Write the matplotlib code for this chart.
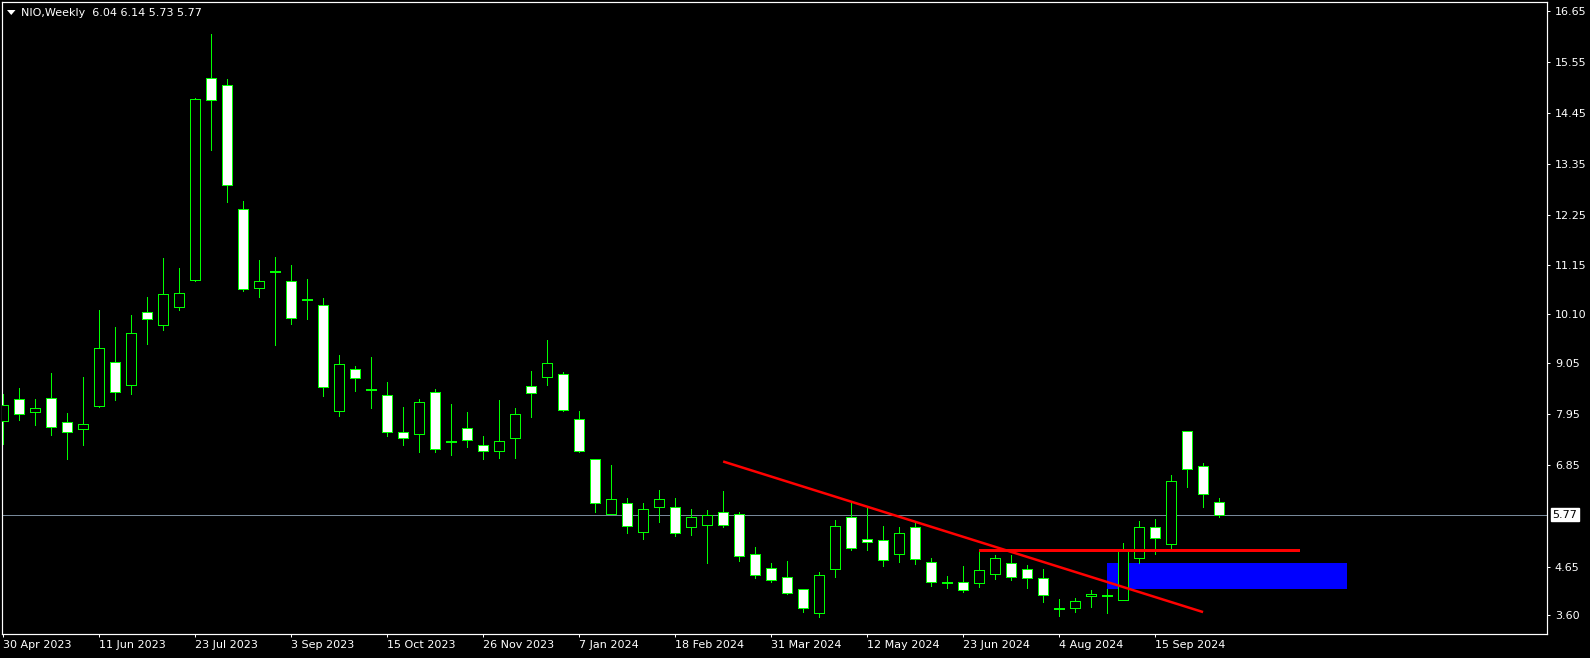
import matplotlib
matplotlib.use("Agg")
import matplotlib.pyplot as plt
from matplotlib.patches import Rectangle, Polygon
from matplotlib.transforms import blended_transform_factory

# ---------------- data ----------------
symbol = "NIO,Weekly"
last_ohlc = [6.04, 6.14, 5.73, 5.77]

opens = [7.80, 8.26, 7.99, 8.28, 7.77, 7.62, 8.11, 9.06, 8.56, 10.14,
         9.87, 10.26, 10.83, 15.19, 15.04, 12.36, 10.67, 11.00, 10.81, 10.40,
         10.29, 8.02, 8.91, 8.47, 8.35, 7.55, 7.51, 8.41, 7.35, 7.64,
         7.27, 7.14, 7.42, 8.54, 8.74, 8.80, 7.83, 6.97, 5.78, 6.02,
         5.39, 5.93, 5.93, 5.50, 5.54, 5.82, 5.78, 4.92, 4.62, 4.42,
         4.17, 3.64, 4.59, 5.72, 5.24, 5.22, 4.92, 5.50, 4.76, 4.30,
         4.31, 4.29, 4.49, 4.74, 4.59, 4.40, 3.74, 3.75, 4.01, 4.02,
         3.94, 4.83, 5.50, 5.15, 7.57, 6.82, 6.04]
highs = [8.38, 8.51, 8.27, 8.83, 7.97, 8.74, 10.19, 9.82, 10.08, 10.47,
         11.31, 11.10, 14.76, 16.15, 15.18, 12.54, 11.27, 11.33, 11.16, 10.86,
         10.45, 9.22, 8.98, 9.18, 8.64, 8.10, 8.27, 8.49, 8.16, 7.99,
         7.47, 8.25, 8.07, 8.87, 9.54, 8.85, 8.01, 6.97, 6.84, 6.13,
         6.02, 6.31, 6.13, 5.89, 5.87, 6.28, 5.83, 5.07, 4.73, 4.77,
         4.17, 4.53, 5.66, 6.03, 5.94, 5.53, 5.50, 5.60, 4.83, 4.45,
         4.66, 5.02, 4.90, 4.90, 4.69, 4.60, 3.95, 3.97, 4.15, 4.17,
         5.16, 5.64, 5.68, 6.63, 7.57, 6.88, 6.14]
lows = [7.30, 7.82, 7.71, 7.49, 6.97, 7.28, 8.09, 8.25, 8.38, 9.46,
        9.76, 10.19, 10.82, 13.65, 12.53, 10.61, 10.46, 9.43, 9.89, 10.00,
        8.34, 7.91, 8.45, 8.08, 7.48, 7.28, 7.13, 7.13, 7.07, 7.24,
        6.98, 7.00, 7.00, 7.89, 8.58, 8.00, 7.13, 5.82, 5.78, 5.38,
        5.25, 5.62, 5.32, 5.34, 4.74, 5.51, 4.78, 4.41, 4.33, 4.05,
        3.68, 3.57, 4.43, 5.00, 5.00, 4.66, 4.76, 4.71, 4.24, 4.20,
        4.11, 4.22, 4.39, 4.36, 4.20, 3.89, 3.59, 3.68, 3.79, 3.64,
        3.92, 4.72, 4.93, 5.04, 6.38, 5.94, 5.73]
closes = [8.14, 7.94, 8.07, 7.67, 7.55, 7.72, 9.36, 8.41, 9.69, 9.99,
          10.53, 10.55, 14.74, 14.72, 12.88, 10.65, 10.81, 11.00, 10.02, 10.40,
          8.52, 9.02, 8.72, 8.47, 7.56, 7.42, 8.20, 7.20, 7.35, 7.38,
          7.14, 7.36, 7.94, 8.39, 9.04, 8.03, 7.14, 6.02, 6.10, 5.52,
          5.89, 6.10, 5.37, 5.72, 5.76, 5.54, 4.87, 4.46, 4.36, 4.08,
          3.75, 4.46, 5.52, 5.05, 5.18, 4.79, 5.37, 4.81, 4.31, 4.30,
          4.14, 4.57, 4.83, 4.42, 4.40, 4.03, 3.74, 3.90, 4.05, 4.02,
          5.00, 5.50, 5.26, 6.49, 6.75, 6.21, 5.77]

date_labels = ["30 Apr 2023", "11 Jun 2023", "23 Jul 2023", "3 Sep 2023",
               "15 Oct 2023", "26 Nov 2023", "7 Jan 2024", "18 Feb 2024",
               "31 Mar 2024", "12 May 2024", "23 Jun 2024", "4 Aug 2024",
               "15 Sep 2024"]
date_label_step = 6  # weeks between date labels
price_ticks = [16.65, 15.55, 14.45, 13.35, 12.25, 11.15, 10.10,
               9.05, 7.95, 6.85, 4.65, 3.60]
current_price = 5.77

trend_x = [45, 75]
trend_y = [6.92, 3.67]
level_x = [61, 81]
level_y = 5.01
zone_x = [69, 84]
zone_y = [4.17, 4.73]

# ---------------- figure ----------------
W, H = 1590, 658
fig = plt.figure(figsize=(W / 100, H / 100), dpi=100, facecolor="black")
ax = fig.add_axes([2.3 / W, (H - 634) / H, (1547 - 2.3) / W, (634 - 2.3) / H])
ax.set_facecolor("black")

green = "#00ff00"
px = 0.72  # one pixel in points

# zone (background object)
ax.add_patch(Rectangle((zone_x[0], zone_y[0]), zone_x[1] - zone_x[0],
                       zone_y[1] - zone_y[0], facecolor="#0000ff",
                       edgecolor="none", zorder=1))

# current price line
ax.axhline(current_price, color="#778899", linewidth=px, zorder=1.5)

# candles
n = len(opens)
xs = list(range(n))
ax.vlines(xs, lows, highs, color=green, linewidth=px, zorder=2,
          antialiased=False)
bw = 0.64
for i in xs:
    o, c = opens[i], closes[i]
    bottom = min(o, c)
    height = max(abs(c - o), 0.022)
    face = "white" if c < o else "black"
    ax.add_patch(Rectangle((i - bw / 2, bottom), bw, height,
                           facecolor=face, edgecolor=green, linewidth=px,
                           zorder=3, antialiased=False))

# drawn objects
ax.plot(trend_x, trend_y, color="#ff0000", linewidth=1.8, zorder=4,
        solid_capstyle="butt")
ax.plot(level_x, [level_y, level_y], color="#ff0000", linewidth=1.8, zorder=4,
        solid_capstyle="butt", antialiased=False)

# axes styling
ax.set_xlim(-0.06, 96.5)
ax.set_ylim(3.197, 16.83)
for s in ax.spines.values():
    s.set_color("white")
    s.set_linewidth(px * 1.2)

ax.yaxis.tick_right()
ax.set_yticks(price_ticks)
ax.set_yticklabels([f"{v:.2f}" for v in price_ticks])
ax.set_xticks([k * date_label_step for k in range(len(date_labels))])
ax.set_xticklabels(date_labels)
for lab in ax.get_xticklabels():
    lab.set_horizontalalignment("left")
ax.tick_params(axis="both", colors="white", labelcolor="white", labelsize=8,
               length=2.2, width=px, direction="out")
ax.tick_params(axis="y", pad=3.5)
ax.tick_params(axis="x", pad=2.0)

# current price label box
tr = blended_transform_factory(ax.transAxes, ax.transData)
ax.text(1.0035, current_price, f"{current_price:.2f}", transform=tr,
        ha="left", va="center", fontsize=8, color="black",
        bbox=dict(facecolor="white", edgecolor="white", pad=1.2),
        clip_on=False, zorder=6)

# header
fig.add_artist(Polygon([(7 / W, 1 - 10 / H), (15.5 / W, 1 - 10 / H),
                        (11.25 / W, 1 - 15 / H)], closed=True,
                       facecolor="white", edgecolor="none",
                       transform=fig.transFigure))
header = f"{symbol}  " + " ".join(f"{v:.2f}" for v in last_ohlc)
fig.text(21 / W, 1 - 12.7 / H, header, ha="left", va="center",
         fontsize=8, color="white")

fig.savefig("out.png", dpi=100, facecolor="black")
